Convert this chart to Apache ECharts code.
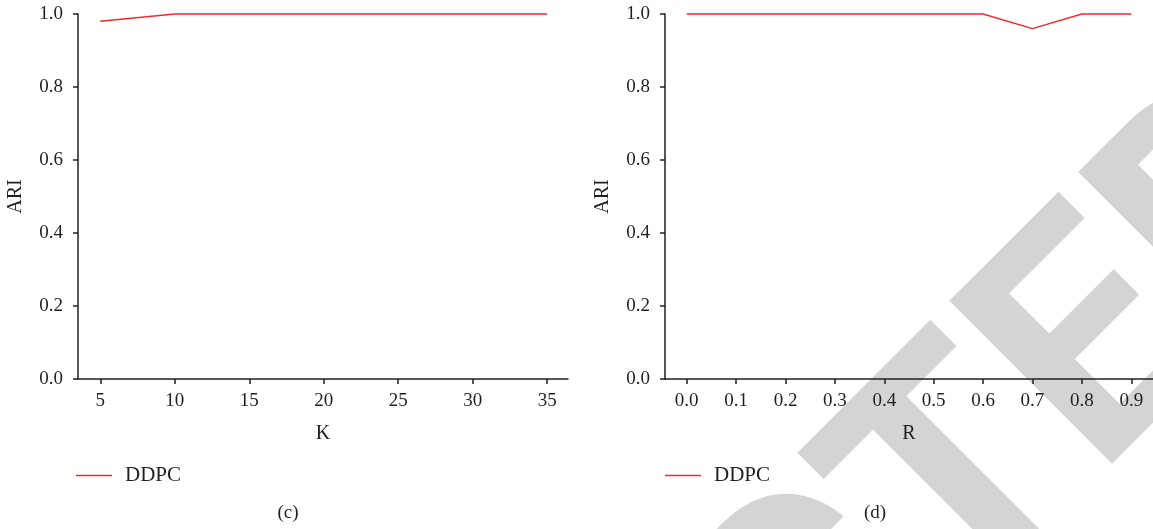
<!DOCTYPE html>
<html>
<head>
<meta charset="utf-8">
<script src="https://cdn.jsdelivr.net/npm/echarts@6/dist/echarts.min.js"></script>
<style>
  html, body { margin: 0; padding: 0; background: #fff; }
  #chart { width: 1153px; height: 529px; }
</style>
</head>
<body>
<div id="chart"></div>
<script>
// Panel (c): ARI against neighbourhood size K
const kValues = [5, 10, 15, 20, 25, 30, 35];
const ariByK = [0.98, 1.0, 1.0, 1.0, 1.0, 1.0, 1.0];
const kTicks = [5, 10, 15, 20, 25, 30, 35];

// Panel (d): ARI against ratio R
const rValues = [0.0, 0.1, 0.2, 0.3, 0.4, 0.5, 0.6, 0.7, 0.8, 0.9];
const ariByR = [1.0, 1.0, 1.0, 1.0, 1.0, 1.0, 1.0, 0.96, 1.0, 1.0];
const rTicks = [0.0, 0.1, 0.2, 0.3, 0.4, 0.5, 0.6, 0.7, 0.8, 0.9];

const seriesName = 'DDPC';
const panelLabels = ['(c)', '(d)'];
const watermarkText = 'RETRACTED';

const INK = '#231f20';
const RED = '#ee2a2f';
const SERIF = '"Liberation Serif", "DejaVu Serif", serif';

// Diagonal watermark: the word runs bottom-left to top-right at 45 degrees.
// It is anchored on the origin of its second "T"; the start point is found
// by measuring the text that precedes that letter.
function watermarkElement() {
  const fontSize = 324;
  const font = 'bold ' + fontSize + 'px Roboto, "Liberation Sans", sans-serif';
  const ctx = document.createElement('canvas').getContext('2d');
  ctx.font = font;
  const prefix = ctx.measureText(watermarkText.slice(0, watermarkText.lastIndexOf('T'))).width;
  const r = Math.SQRT1_2;
  // glyph origin of that "T" on the baseline
  const qx = 980, qy = 638;
  // middle line sits above the baseline (towards upper-left once rotated)
  const mid = 0.342 * fontSize;
  const mx = qx - mid * r, my = qy - mid * r;
  // walk back along the reading direction to the first letter
  const sx = mx - prefix * r, sy = my + prefix * r;
  return {
    type: 'text', z: -10, silent: true,
    x: sx, y: sy, rotation: Math.PI / 4,
    style: {
      text: watermarkText, font: font,
      fill: '#d4d4d4', align: 'left', verticalAlign: 'middle'
    }
  };
}

function yAxisOpt(gridIndex) {
  return {
    type: 'value', gridIndex: gridIndex, min: 0, max: 1, interval: 0.2,
    name: 'ARI', nameLocation: 'middle', nameGap: 52,
    nameTextStyle: { fontFamily: SERIF, fontSize: 20, color: INK },
    axisLine: { show: true, onZero: false, lineStyle: { color: INK, width: 1.5 } },
    axisTick: { show: true, length: 5, lineStyle: { color: INK, width: 1.5 } },
    axisLabel: { margin: 15, fontFamily: SERIF, fontSize: 19, color: INK,
                 formatter: v => v.toFixed(1) },
    splitLine: { show: false }
  };
}

function xAxisOpt(gridIndex, name, min, max, ticks, digits) {
  return {
    type: 'value', gridIndex: gridIndex, min: min, max: max,
    name: name, nameLocation: 'middle', nameGap: 45,
    nameTextStyle: { fontFamily: SERIF, fontSize: 20, color: INK },
    axisLine: { show: true, onZero: false, lineStyle: { color: INK, width: 1.5 } },
    axisTick: { show: true, length: 5, customValues: ticks,
                lineStyle: { color: INK, width: 1.5 } },
    axisLabel: { margin: 13, fontFamily: SERIF, fontSize: 19, color: INK,
                 customValues: ticks, formatter: v => v.toFixed(digits) },
    splitLine: { show: false }
  };
}

function legendOpt(left) {
  return {
    left: left, top: 460, orient: 'horizontal',
    data: [seriesName],
    icon: 'rect', itemWidth: 36, itemHeight: 1.5,
    selectedMode: false,
    textStyle: { fontFamily: SERIF, fontSize: 21, color: INK, padding: [0, 0, 0, 8] }
  };
}

const chart = echarts.init(document.getElementById('chart'), null, { renderer: 'canvas' });

chart.setOption({
  animation: false,
  backgroundColor: '#ffffff',
  grid: [
    { left: 78, top: 14, width: 490, height: 365 },
    { left: 665, top: 14, width: 490, height: 365 }
  ],
  xAxis: [
    xAxisOpt(0, 'K', 3.5, 36.4, kTicks, 0),
    xAxisOpt(1, 'R', -0.044, 0.944, rTicks, 1)
  ],
  yAxis: [yAxisOpt(0), yAxisOpt(1)],
  legend: [legendOpt(71), legendOpt(660)],
  graphic: [
    watermarkElement(),
    {
      type: 'text', x: 288, y: 513,
      style: { text: panelLabels[0], font: '19px ' + SERIF, fill: INK,
               align: 'center', verticalAlign: 'middle' }
    },
    {
      type: 'text', x: 875, y: 513,
      style: { text: panelLabels[1], font: '19px ' + SERIF, fill: INK,
               align: 'center', verticalAlign: 'middle' }
    }
  ],
  series: [
    {
      name: seriesName, type: 'line', xAxisIndex: 0, yAxisIndex: 0,
      data: kValues.map((k, i) => [k, ariByK[i]]),
      symbol: 'none', lineStyle: { color: RED, width: 1.5 }, itemStyle: { color: RED },
      clip: false
    },
    {
      name: seriesName, type: 'line', xAxisIndex: 1, yAxisIndex: 1,
      data: rValues.map((r, i) => [r, ariByR[i]]),
      symbol: 'none', lineStyle: { color: RED, width: 1.5 }, itemStyle: { color: RED },
      clip: false
    }
  ]
});
</script>
</body>
</html>
